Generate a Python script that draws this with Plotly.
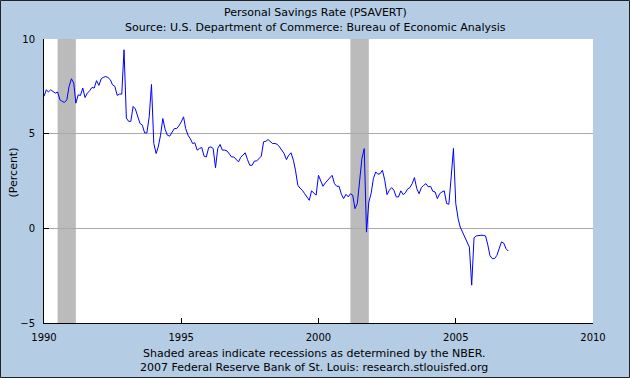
import pandas as pd
import plotly.graph_objects as go

# Personal saving rate, monthly, starting Jan 1990 (percent)
start_month = "1990-01-01"
values = [
    6.97, 7.32, 7.2, 7.32, 7.23, 7.14, 7.2, 6.79, 6.7, 6.65, 6.79, 7.5,
    7.9, 7.67, 6.61, 7.05, 7.02, 7.41, 6.91, 7.14, 7.27, 7.44, 7.41, 7.8,
    7.55, 7.9, 7.97, 8.02, 7.97, 7.85, 7.58, 7.5, 7.02, 7.09, 7.09, 9.43,
    5.82, 5.65, 5.65, 6.44, 6.3, 5.9,
    5.54, 5.45, 5.04, 5.04, 5.9, 7.6, 4.48, 3.95, 4.3, 4.92, 5.8, 5.22,
    4.92, 4.87, 5.1, 5.27, 5.27, 5.41, 5.62, 5.89, 5.27, 4.92, 4.74, 4.48,
    4.52, 4.13, 4.22, 4.27, 3.81, 3.77, 4.27, 4.3, 4.22, 3.2, 4.22, 4.43,
    4.13, 4.13, 4.09, 3.92, 3.77, 3.77,
    3.63, 3.51, 3.74, 3.86, 3.99, 3.63, 3.33, 3.33, 3.55, 3.56, 3.69, 3.81,
    4.57, 4.6, 4.69, 4.57, 4.48, 4.48, 4.44, 4.3, 4.13, 3.95, 3.63, 3.86,
    3.99, 3.6, 3.07, 2.28, 2.12, 2.01, 1.83, 1.66, 1.48, 1.98, 1.87, 1.75,
    2.8, 2.54, 2.22,
    2.4, 2.54, 2.63, 2.8, 2.36, 2.22, 2.22, 1.8, 1.57, 1.8, 1.66, 1.83,
    1.75, 1.04, 1.31, 2.63, 3.68, 4.21, -0.2, 1.39, 1.83, 2.63, 2.98, 2.86,
    2.89, 3.07, 2.54, 1.78, 2.01, 2.15, 2.01, 1.66, 1.66, 1.98, 1.78, 1.87,
    2.08, 2.15, 2.36, 2.68, 2.1,
    1.83, 2.15, 2.27, 2.36, 2.19, 2.22, 1.96, 1.92, 1.57, 1.83, 1.92, 1.98,
    1.31, 1.27, 2.71, 4.22, 1.31, 0.52, 0.07, -0.19, -0.46, -0.67, -0.99, -3.0,
    -0.5, -0.4, -0.37, -0.37, -0.37, -0.4, -0.83, -1.44, -1.6, -1.6, -1.44, -1.11,
    -0.72, -0.78, -1.08, -1.2,
]
months = pd.date_range(start_month, periods=len(values), freq="MS")

recession_starts = ["1990-07-01", "2001-03-01"]
recession_ends = ["1991-03-01", "2001-11-01"]

y_ticks = [-5, 0, 5, 10]
x_ticks = ["1990-01-01", "1995-01-01", "2000-01-01", "2005-01-01", "2010-01-01"]
x_tick_labels = ["1990", "1995", "2000", "2005", "2010"]

title = "Personal Savings Rate (PSAVERT)"
subtitle = "Source: U.S. Department of Commerce: Bureau of Economic Analysis"
footer1 = "Shaded areas indicate recessions as determined by the NBER."
footer2 = "2007 Federal Reserve Bank of St. Louis: research.stlouisfed.org"
y_title = "(Percent)"

W, H = 630, 378
ML, MR, MT, MB = 44, 37, 39, 55
PW, PH = W - ML - MR, H - MT - MB


def px_x(p):
    return (p - ML) / PW


def px_y(p):
    return (H - MB - p) / PH


FONT = "DejaVu Sans"
BG = "#B4CCE4"

fig = go.Figure()
fig.add_trace(go.Scatter(
    x=months, y=values, mode="lines",
    line=dict(color="#0000FF", width=1),
    hoverinfo="skip", showlegend=False,
))

shapes = []
for s, e in zip(recession_starts, recession_ends):
    shapes.append(dict(type="rect", xref="x", yref="paper", x0=s, x1=e, y0=0, y1=1,
                       fillcolor="#BBBBBB", line=dict(width=0), layer="below"))
# outer frame
shapes.append(dict(type="rect", xref="paper", yref="paper",
                   x0=px_x(0.5), x1=px_x(W - 0.5), y0=px_y(H - 0.5), y1=px_y(0.5),
                   line=dict(color="#222222", width=1), fillcolor="rgba(0,0,0,0)",
                   layer="above"))

annotations = [
    dict(text=title, x=px_x(315), y=px_y(12), xref="paper", yref="paper",
         showarrow=False, xanchor="center", yanchor="middle",
         font=dict(family=FONT, size=11, color="#000")),
    dict(text=subtitle, x=px_x(315), y=px_y(28), xref="paper", yref="paper",
         showarrow=False, xanchor="center", yanchor="middle",
         font=dict(family=FONT, size=11, color="#000")),
    dict(text=footer1, x=px_x(314), y=px_y(353), xref="paper", yref="paper",
         showarrow=False, xanchor="center", yanchor="middle",
         font=dict(family=FONT, size=11, color="#000")),
    dict(text=footer2, x=px_x(314), y=px_y(367), xref="paper", yref="paper",
         showarrow=False, xanchor="center", yanchor="middle",
         font=dict(family=FONT, size=11, color="#000")),
    dict(text=y_title, x=px_x(12.5), y=px_y(173), xref="paper", yref="paper",
         showarrow=False, xanchor="center", yanchor="middle", textangle=-90,
         font=dict(family=FONT, size=11, color="#000")),
]

fig.update_layout(
    width=W, height=H,
    margin=dict(l=ML, r=MR, t=MT, b=MB, pad=0),
    paper_bgcolor=BG, plot_bgcolor="#FFFFFF",
    shapes=shapes, annotations=annotations,
    font=dict(family=FONT, size=10, color="#000"),
    showlegend=False,
)
fig.update_xaxes(
    type="date", range=["1990-01-01", "2010-01-01"],
    tickmode="array", tickvals=x_ticks, ticktext=x_tick_labels,
    ticks="inside", ticklen=5, tickcolor="#000", tickwidth=1,
    showline=True, linecolor="#000", linewidth=1,
    showgrid=False, zeroline=False,
    tickfont=dict(family=FONT, size=10, color="#000"),
    ticklabelstandoff=5,
)
fig.update_yaxes(
    range=[-5, 10], tickmode="array", tickvals=y_ticks,
    ticks="inside", ticklen=5, tickcolor="#000", tickwidth=1,
    showline=True, linecolor="#000", linewidth=1,
    showgrid=True, gridcolor="#AAAAAA", gridwidth=1, zeroline=False,
    tickfont=dict(family=FONT, size=10, color="#000"),
    ticklabelstandoff=6,
)

fig.write_html(
    "out.html",
    config={"displayModeBar": False},
    post_script="document.body.style.margin='0';document.body.style.padding='0';",
)
